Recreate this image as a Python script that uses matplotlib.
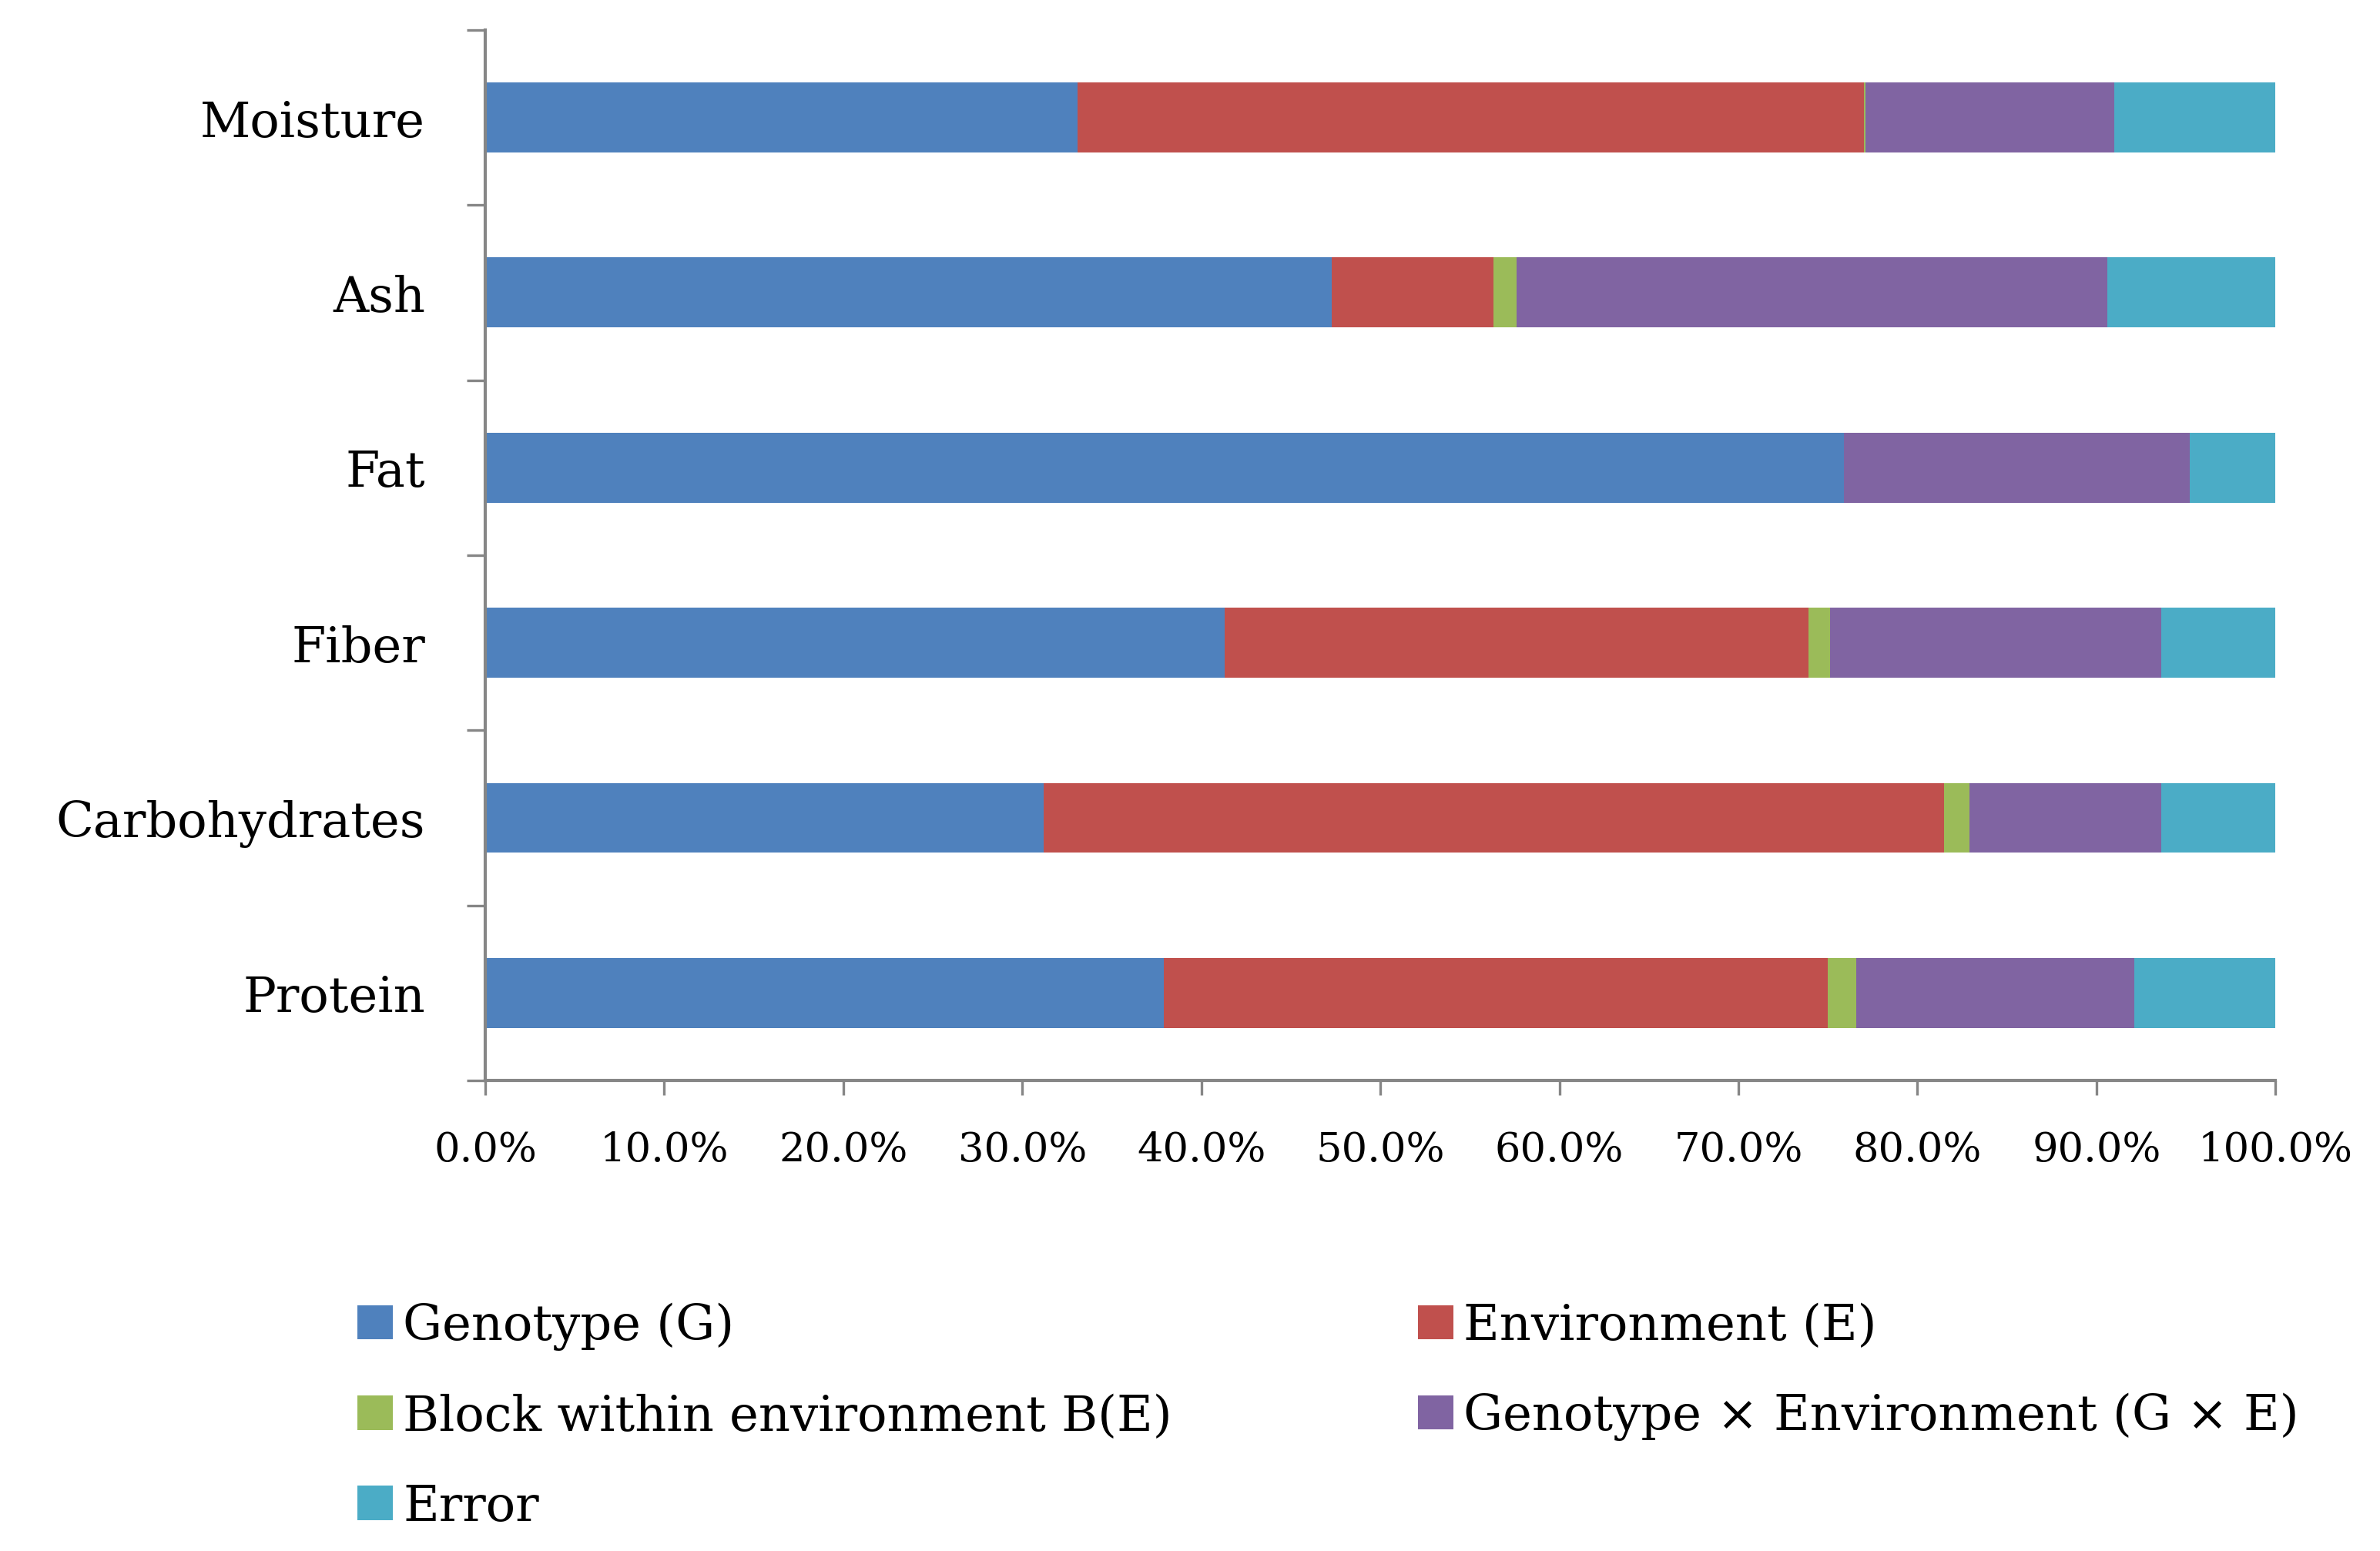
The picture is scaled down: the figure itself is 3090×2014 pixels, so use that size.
import matplotlib
matplotlib.use("Agg")
import matplotlib.pyplot as plt
import numpy as np
from matplotlib.patches import Patch
from matplotlib.ticker import FixedLocator, PercentFormatter

# ----------------- data (percent of variance) -----------------
traits = ["Protein", "Carbohydrates", "Fiber", "Fat", "Ash", "Moisture"]
genotype = [37.9, 31.2, 41.3, 75.9, 47.3, 33.1]
environment = [37.1, 50.3, 32.6, 0.0, 9.0, 43.9]
block = [1.6, 1.4, 1.2, 0.0, 1.3, 0.1]
gxe = [15.5, 10.7, 18.5, 19.3, 33.0, 13.9]
error = [7.9, 6.4, 6.4, 4.8, 9.4, 9.0]

labels = ["Genotype (G)", "Environment (E)", "Block within environment B(E)",
          "Genotype \u00d7 Environment (G \u00d7 E)", "Error"]
colors = ["#4F81BD", "#C0504D", "#9BBB59", "#8064A2", "#4BACC6"]

plt.rcParams["font.family"] = ["DejaVu Serif", "Liberation Serif"]
axis_grey = "#868686"

fig = plt.figure(figsize=(15.45, 10.075), dpi=200)
ax = fig.add_axes([0.2039, 0.3032, 0.7522, 0.6770])

y = np.arange(len(traits))
left = np.zeros(len(traits))
handles = []
for vals, lab, col in zip([genotype, environment, block, gxe, error], labels, colors):
    ax.barh(y, vals, left=left, height=0.4, color=col, label=lab)
    left += np.array(vals)
    handles.append(Patch(facecolor=col, label=lab))

ax.set_xlim(0, 100)
ax.set_ylim(-0.5, len(traits) - 0.5)

for s in ["top", "right"]:
    ax.spines[s].set_visible(False)
for s in ["left", "bottom"]:
    ax.spines[s].set_color(axis_grey)
    ax.spines[s].set_linewidth(1.5)

ax.set_xticks(np.arange(0, 101, 10))
ax.xaxis.set_major_formatter(PercentFormatter(100, decimals=1))
ax.tick_params(axis="x", direction="out", length=7, width=1.2, color=axis_grey,
               labelsize=19, pad=16)

ax.set_yticks(y)
ax.set_yticklabels(traits)
ax.yaxis.set_minor_locator(FixedLocator(np.arange(-0.5, len(traits), 1.0)))
ax.tick_params(axis="y", which="major", length=0, labelsize=23, pad=28)
ax.tick_params(axis="y", which="minor", direction="out", length=8.6, width=1.2,
               color=axis_grey)

# legend is laid out row-wise in the original: reorder for column-major fill
order = [0, 2, 4, 1, 3]
fig.legend([handles[i] for i in order], [labels[i] for i in order],
           ncol=2, loc="upper left", bbox_to_anchor=(0.142, 0.173),
           frameon=False, fontsize=23, handlelength=0.72, handleheight=0.7,
           handletextpad=0.2, columnspacing=5.0, labelspacing=0.87,
           borderaxespad=0)

fig.savefig("out.png", dpi=200, facecolor="white")
